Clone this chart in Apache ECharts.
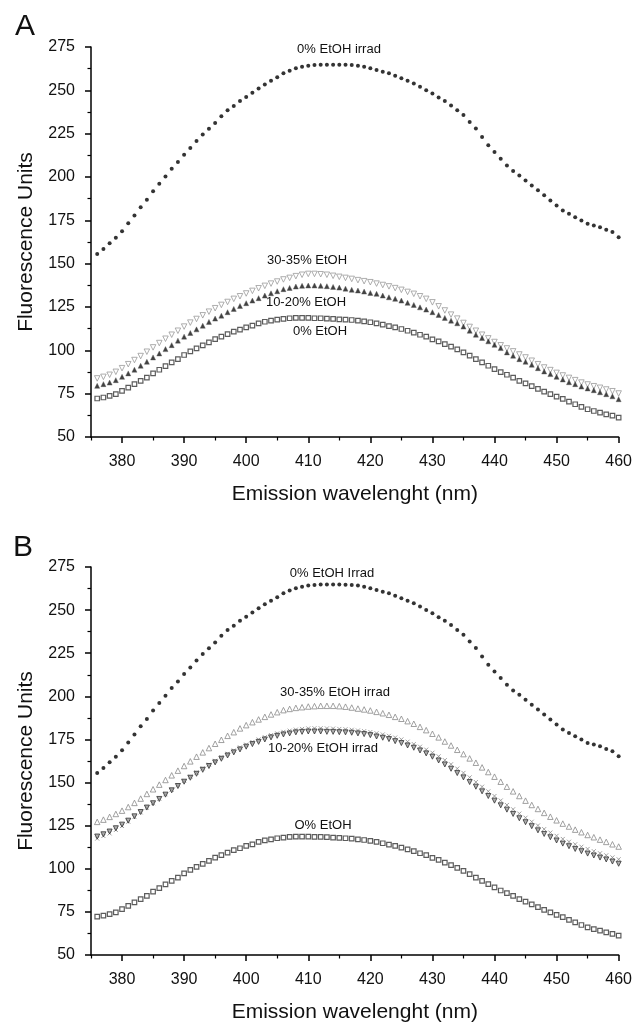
<!DOCTYPE html>
<html>
<head>
<meta charset="utf-8">
<script src="https://cdn.jsdelivr.net/npm/echarts@6/dist/echarts.min.js"></script>
<style>
html,body{margin:0;padding:0;background:#fff;}
#chart{width:635px;height:1024px;}
</style>
</head>
<body>
<div id="chart"></div>
<script>
// Emission wavelength (nm)
const wavelength = [376,377,378,379,380,381,382,383,384,385,386,387,388,389,390,391,392,393,394,395,396,397,398,399,400,401,402,403,404,405,406,407,408,409,410,411,412,413,414,415,416,417,418,419,420,421,422,423,424,425,426,427,428,429,430,431,432,433,434,435,436,437,438,439,440,441,442,443,444,445,446,447,448,449,450,451,452,453,454,455,456,457,458,459,460];

// 0% EtOH irrad (same in A and B)
const irrad0 = [155.6,158.5,161.8,164.9,168.7,173.3,177.8,182.6,186.9,191.8,196.1,200.3,204.8,208.6,212.9,216.7,220.8,224.5,227.9,231.2,235.1,238.5,241,243.8,246.2,248.6,251.1,253.4,255.5,257.5,259.8,261.3,262.7,263.6,264.2,264.6,264.8,264.8,264.8,264.8,264.7,264.6,264.2,263.6,262.7,261.7,260.7,259.8,258.4,256.9,255.5,254,252.1,250.1,248.2,245.9,243.8,241.3,238.5,235.7,231.8,228,223.1,218.3,214.4,210.6,206.7,203.4,200.9,198,195.1,192.3,189.4,186.5,183.6,180.7,178.8,176.8,174.9,173,172,171,169.5,168.2,165.3];

// 0% EtOH (same in A and B)
const etoh0 = [72.2,72.8,73.7,74.7,76.6,78.5,80.5,82.4,84.3,86.7,88.8,90.9,93,94.9,97.3,99.4,101.1,102.9,104.6,106.5,107.9,109.4,110.8,111.9,113.3,114.2,115.6,116.5,117.1,117.7,118.1,118.5,118.7,118.7,118.7,118.5,118.5,118.3,118.1,117.9,117.7,117.5,117.1,116.7,116.2,115.6,114.8,114,113.3,112.3,111.3,110.2,109,107.9,106.3,105.2,103.6,102.1,100.5,98.8,96.9,94.9,93,91.1,89.2,87.4,85.9,84.3,82.4,80.9,79.3,77.8,76.2,74.7,73.3,72,70.4,68.9,67.4,66,65,64.1,63.1,62.3,61.2];

// Panel A: 10-20% EtOH
const etoh10A = [79.5,80.5,81.4,82.8,84.7,86.7,88.8,91.1,93.4,95.9,98.2,100.7,103,105.6,107.9,110,112.1,114.2,116.4,118.3,120,122,123.9,125.6,127.2,128.7,130.1,131.6,132.9,134.1,135.3,136,136.8,137.2,137.4,137.4,137.2,137,136.6,136.2,135.6,134.9,134.5,133.9,133.1,132.6,131.6,130.6,129.7,128.7,127.4,126.2,124.8,123.5,122,120.4,118.7,117.1,115.6,113.7,111.3,109,107.1,105.2,103.2,101.3,98.8,96.9,94.9,93.4,91.7,89.7,87.8,86.3,84.7,83.2,81.6,80.5,79.1,78,77,75.8,74.7,73.5,71.8];

// Panel A: 30-35% EtOH
const etoh30A = [83.8,84.7,85.9,87.6,89.7,92,94.4,96.7,99.2,101.7,104.2,106.7,109,111.3,113.7,116,118.1,120.2,122.3,124.3,126.2,127.9,129.7,131.2,132.8,134.3,135.8,137.2,138.5,139.7,140.9,141.8,142.8,143.6,144.1,144.1,143.9,143.6,143,142.4,141.8,141.2,140.5,139.9,139.3,138.5,137.7,136.9,135.9,134.9,133.7,132.6,131.2,129.7,127.7,125.4,123,120.6,118.3,115.8,113.5,111.3,109,106.9,104.8,102.9,101.1,99.4,97.6,95.9,94,92,90.1,88.6,87,85.5,84.1,82.8,81.4,80.3,79.3,78.4,77.4,76.4,75.1];

// Panel B: 30-35% EtOH irrad
const etoh30B = [127.2,128.5,130.1,131.8,133.7,135.8,138.2,140.7,143.4,146.1,148.8,151.5,154.2,156.9,159.6,162.3,165,167.5,170,172.5,174.8,177.1,179.2,181.4,183.3,185,186.6,188.1,189.5,190.8,192,192.7,193.3,193.7,194.1,194.3,194.5,194.5,194.5,194.3,194,193.5,192.9,192.4,191.8,191,190.2,189.3,188.1,187,185.6,184.1,182.3,180.4,178.3,176.2,173.8,171.5,169,166.5,164,161.5,158.8,156.1,153.4,150.5,147.6,144.9,142.2,139.5,137,134.7,132.4,130.2,128.1,126.2,124.5,122.7,121.2,119.6,118.3,116.9,115.6,114.2,112.9];

// Panel B: 10-20% EtOH irrad (triangles)
const etoh10B = [118.7,120,121.6,123.5,125.6,127.9,130.4,132.9,135.5,138,140.5,143,145.5,148,150.5,152.8,155.1,157.4,159.6,161.7,163.8,165.7,167.5,169.2,170.8,172.3,173.6,175,176.2,177.1,177.9,178.5,179.1,179.4,179.6,179.6,179.6,179.4,179.4,179.2,179.1,178.9,178.5,178.1,177.5,176.7,176,175.2,174,172.9,171.5,170.2,168.6,166.9,165,162.8,160.5,158,155.5,153,150.3,147.6,144.9,142.2,139.5,136.8,134.3,131.8,129.3,127,124.7,122.3,120.2,118.3,116.4,114.6,113.1,111.5,110.2,108.8,107.7,106.5,105.4,104.2,102.9];

// Panel B: 10-20% EtOH irrad (crosses)
const etoh20B = [117.5,119,120.5,122.5,124.8,127.3,130,132.7,135.4,138,140.6,143.2,145.8,148.4,151,153.4,155.8,158.2,160.4,162.6,164.7,166.7,168.6,170.4,172,173.5,175,176.3,177.5,178.5,179.4,180.1,180.7,181.1,181.4,181.5,181.5,181.4,181.3,181.1,180.9,180.6,180.2,179.8,179.3,178.6,177.9,177.1,176.1,175,173.7,172.3,170.8,169.1,167.3,165.2,163,160.6,158.1,155.6,153,150.3,147.6,144.9,142.2,139.6,137,134.5,132,129.6,127.3,125.1,123,121,119.1,117.3,115.7,114.2,112.8,111.5,110.2,109,107.8,106.6,105.5];

// Tick labels
const xTicks = [380,390,400,410,420,430,440,450,460];
const xMinorTicks = [375,385,395,405,415,425,435,445,455];
const yTicks = [50,75,100,125,150,175,200,225,250,275];

const xTitle = 'Emission wavelenght (nm)';
const yTitle = 'Fluorescence Units';

const pts = vals => wavelength.map((w, i) => [w, vals[i]]);

const FONT = '"Liberation Sans", Arial, sans-serif';

function xAxes(gridIndex) {
  return [
    {
      gridIndex, type: 'value', min: 375, max: 460, interval: 5,
      axisLine: { show: true, onZero: false, lineStyle: { color: '#000', width: 1.5 } },
      axisTick: { show: true, customValues: xTicks, length: 6, lineStyle: { color: '#000', width: 1.5 } },
      axisLabel: { customValues: xTicks, margin: 17, fontSize: 16, color: '#111', fontFamily: FONT },
      splitLine: { show: false },
      name: xTitle, nameLocation: 'middle', nameGap: 47,
      nameTextStyle: { fontSize: 21, color: '#111', fontFamily: FONT }
    },
    {
      gridIndex, type: 'value', min: 375, max: 460, interval: 5, position: 'bottom',
      axisLine: { show: false, onZero: false },
      axisTick: { show: true, customValues: xMinorTicks, length: 3.5, lineStyle: { color: '#000', width: 1.2 } },
      axisLabel: { show: false },
      splitLine: { show: false }
    }
  ];
}

function yAxis(gridIndex) {
  return {
    gridIndex, type: 'value', min: 50, max: 275, interval: 25,
    axisLine: { show: true, onZero: false, lineStyle: { color: '#000', width: 1.5 } },
    axisTick: { show: true, length: 6, lineStyle: { color: '#000', width: 1.5 } },
    minorTick: { show: true, splitNumber: 2, length: 3.5, lineStyle: { color: '#000', width: 1.2 } },
    axisLabel: { customValues: yTicks, margin: 16, fontSize: 16, color: '#111', fontFamily: FONT },
    splitLine: { show: false },
    minorSplitLine: { show: false },
    name: yTitle, nameLocation: 'middle', nameGap: 54, nameRotate: 90,
    nameTextStyle: { fontSize: 21, color: '#111', fontFamily: FONT }
  };
}

function sc(name, xi, yi, vals, style) {
  return Object.assign({
    name, type: 'scatter', xAxisIndex: xi, yAxisIndex: yi,
    data: pts(vals), silent: true, animation: false
  }, style);
}

const styleIrrad = { symbol: 'circle', symbolSize: 4, itemStyle: { color: '#000' } };
const styleZero = { symbol: 'rect', symbolSize: 4.5, itemStyle: { color: '#fff', borderColor: '#333', borderWidth: 1.2 } };
const crossPath = 'path://M0,0L10,10M10,0L0,10';

const chart = echarts.init(document.getElementById('chart'), null, { renderer: 'canvas' });

function txt(text, x, y, size) {
  return {
    type: 'text', x, y,
    style: { text, fontSize: size || 13, fontFamily: FONT, fill: '#111', align: 'center', verticalAlign: 'middle' }
  };
}

chart.setOption({
  backgroundColor: '#fff',
  animation: false,
  grid: [
    { left: 91, right: 15, top: 47, height: 390 },
    { left: 91, right: 15, top: 567, height: 389 }
  ],
  xAxis: [...xAxes(0), ...xAxes(1)],
  yAxis: [yAxis(0), yAxis(1)],
  series: [
    sc('0% EtOH irrad', 0, 0, irrad0, styleIrrad),
    sc('0% EtOH', 0, 0, etoh0, styleZero),
    sc('30-35% EtOH', 0, 0, etoh30A, { symbol: 'triangle', symbolRotate: 180, symbolSize: 5.5, itemStyle: { color: '#fff', borderColor: '#9a9a9a', borderWidth: 1 } }),
    sc('10-20% EtOH', 0, 0, etoh10A, { symbol: 'triangle', symbolSize: 5, itemStyle: { color: '#111', borderColor: '#555', borderWidth: 0.5 } }),

    sc('0% EtOH Irrad', 2, 1, irrad0, styleIrrad),
    sc('O% EtOH', 2, 1, etoh0, styleZero),
    sc('30-35% EtOH irrad', 2, 1, etoh30B, { symbol: 'triangle', symbolSize: 5.5, itemStyle: { color: '#fff', borderColor: '#8a8a8a', borderWidth: 1 } }),
    sc('20% EtOH irrad', 2, 1, etoh20B, { symbol: crossPath, symbolSize: 4, itemStyle: { color: 'none', borderColor: '#8a8a8a', borderWidth: 1 } }),
    sc('10-20% EtOH irrad', 2, 1, etoh10B, { symbol: 'triangle', symbolRotate: 180, symbolSize: 5, itemStyle: { color: '#9a9a9a', borderColor: '#333', borderWidth: 1 } })
  ],
  graphic: [
    txt('A', 25, 27, 30),
    txt('B', 23, 548, 30),
    txt('0% EtOH irrad', 339, 49),
    txt('30-35% EtOH', 307, 260),
    txt('10-20% EtOH', 306, 302),
    txt('0% EtOH', 320, 331),
    txt('0% EtOH Irrad', 332, 573),
    txt('30-35% EtOH irrad', 335, 692),
    txt('10-20% EtOH irrad', 323, 748),
    txt('O% EtOH', 323, 825)
  ]
});
</script>
</body>
</html>
